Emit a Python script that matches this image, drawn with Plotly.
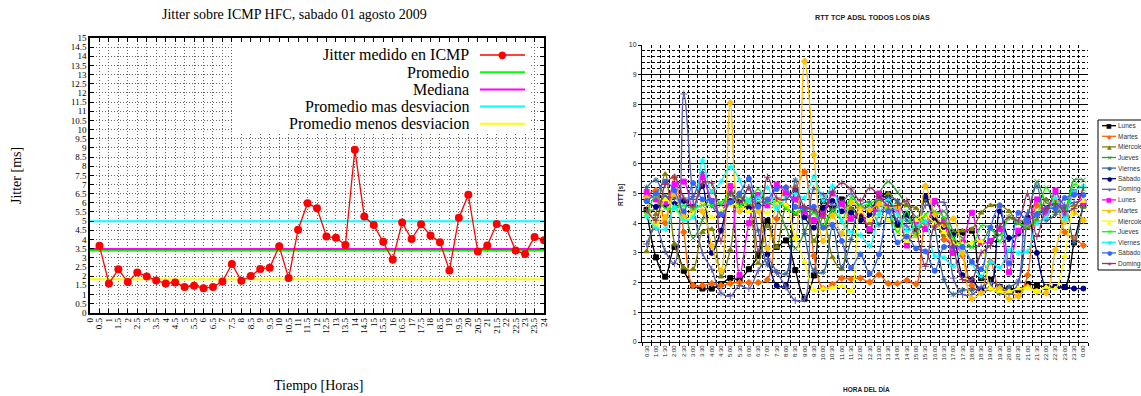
import plotly.graph_objects as go

W, H = 1141, 396


def px(x):
    return x / W


def py(y):
    return (H - y) / H


SERIF = "Liberation Serif, Times New Roman, serif"
SANS = "Liberation Sans, Arial, sans-serif"

# ---------------- Left chart data ----------------
hours = [0.5, 1, 1.5, 2, 2.5, 3, 3.5, 4, 4.5, 5, 5.5, 6, 6.5, 7, 7.5, 8, 8.5, 9, 9.5, 10,
         10.5, 11, 11.5, 12, 12.5, 13, 13.5, 14, 14.5, 15, 15.5, 16, 16.5, 17, 17.5, 18,
         18.5, 19, 19.5, 20, 20.5, 21, 21.5, 22, 22.5, 23, 23.5, 24]
jitter = [3.65, 1.6, 2.37, 1.67, 2.2, 1.98, 1.76, 1.6, 1.65, 1.41, 1.47, 1.34, 1.41, 1.7,
          2.66, 1.74, 2.0, 2.39, 2.46, 3.63, 1.89, 4.53, 5.98, 5.7, 4.16, 4.09, 3.7, 8.9,
          5.25, 4.79, 3.87, 2.9, 4.92, 4.02, 4.83, 4.22, 3.85, 2.31, 5.19, 6.44, 3.34, 3.67,
          4.84, 4.64, 3.39, 3.21, 4.14, 3.96]
hour_range = [0, 24]
stat_names = ["Promedio", "Mediana", "Promedio mas desviacion", "Promedio menos desviacion"]
stat_values = [3.40, 3.48, 4.99, 1.82]
stat_colors = ["#00FF00", "#FF00FF", "#00FFFF", "#FFFF00"]
jitter_name = "Jitter medido en ICMP"

# ---------------- Right chart data ----------------
hora = ["0:30", "1:00", "1:30", "2:00", "2:30", "3:00", "3:30", "4:00", "4:30", "5:00",
        "5:30", "6:00", "6:30", "7:00", "7:30", "8:00", "8:30", "9:00", "9:30", "10:00",
        "10:30", "11:00", "11:30", "12:00", "12:30", "13:00", "13:30", "14:00", "14:30",
        "15:00", "15:30", "16:00", "16:30", "17:00", "17:30", "18:00", "18:30", "19:00",
        "19:30", "20:00", "20:30", "21:00", "21:30", "22:00", "22:30", "23:00", "23:30", "0:00"]

lunes1 = [4.45, 2.85, 2.2, 3.2, 2.4, 1.9, 1.8, 1.8, 1.95, 2.15, 2.1, 2.45, 2.9, 4.08, 3.2, 3.42,
          2.42, 1.46, 2.24, 4.74, 4.48, 4.8, 4.45, 4.3, 3.75, 4.85, 4.98, 3.95, 4.3, 3.8, 4.8,
          4.2, 3.9, 3.7, 3.7, 3.75, 2.15, 2.1, 1.85, 1.8, 1.75, 1.95, 1.9, 1.85, 1.85, 1.85, 3.35, 4.6]
martes1 = [4.9, 5.1, 4.0, 5.55, 3.7, 1.9, 1.9, 1.97, 1.9, 1.97, 2.0, 2.0, 2.0, 2.1, 4.15, 5.2,
           5.2, 5.73, 2.9, 1.8, 1.94, 2.15, 2.12, 2.15, 2.02, 2.27, 1.97, 1.97, 2.08, 1.95, 4.0,
           4.3, 3.45, 3.35, 2.9, 1.9, 1.75, 2.7, 1.75, 1.7, 1.55, 2.25, 4.6, 4.35, 4.75, 3.7, 3.5, 3.25]
miercoles1 = [3.05, 4.3, 5.65, 3.3, 2.5, 2.45, 3.7, 3.8, 2.2, 3.1, 4.9, 4.6, 2.65, 3.9, 3.2, 4.5,
              4.3, 4.5, 3.4, 4.2, 2.85, 2.45, 4.5, 4.1, 4.0, 4.6, 5.0, 4.7, 4.6, 4.5, 4.05, 4.1,
              3.6, 3.7, 3.75, 3.8, 4.35, 4.6, 4.6, 4.4, 4.0, 3.85, 4.1, 4.8, 4.4, 4.5, 4.6, 4.55]
jueves1 = [4.4, 4.5, 4.9, 4.6, 4.4, 3.5, 4.1, 5.1, 4.6, 5.05, 4.9, 4.6, 4.7, 4.7, 4.5, 3.85,
           3.15, 3.7, 4.4, 3.85, 4.4, 4.6, 4.4, 4.6, 4.4, 5.0, 5.4, 5.05, 4.6, 4.2, 3.8, 4.25,
           4.4, 3.75, 3.5, 3.2, 3.3, 3.8, 3.6, 4.2, 4.0, 4.3, 5.4, 4.7, 4.6, 4.5, 5.45, 5.45]
viernes1 = [5.2, 5.45, 4.9, 4.85, 4.75, 4.9, 5.7, 4.6, 4.3, 5.05, 4.6, 5.2, 3.75, 2.6, 2.35, 2.3,
            5.45, 3.65, 2.4, 2.35, 3.9, 2.5, 3.45, 4.6, 4.7, 3.95, 4.85, 4.75, 4.1, 4.0, 4.8,
            3.85, 2.1, 1.6, 1.75, 1.75, 1.8, 1.8, 1.65, 1.85, 2.05, 4.2, 5.25, 4.1, 4.3, 4.55, 3.35, 4.7]
sabado1 = [4.75, 4.55, 4.6, 4.65, 4.75, 4.55, 5.25, 3.0, 3.75, 4.75, 4.7, 4.5, 4.6, 2.95, 1.9, 1.9,
           5.1, 4.2, 3.85, 4.5, 4.75, 4.4, 4.35, 4.1, 4.3, 4.9, 4.8, 4.0, 4.3, 4.0, 4.9, 4.1,
           3.9, 3.6, 2.25, 2.1, 1.75, 1.8, 4.4, 3.5, 3.65, 4.2, 3.0, 1.85, 1.85, 1.85, 1.8, 1.8]
domingo1 = [3.3, 3.85, 3.05, 2.65, 8.35, 4.8, 3.0, 2.45, 1.65, 1.55, 1.9, 1.8, 2.4, 2.8, 2.35, 1.85,
            1.4, 1.45, 5.15, 4.95, 4.6, 4.7, 5.0, 4.5, 4.55, 4.4, 4.55, 4.1, 3.9, 3.65, 4.6, 4.65,
            4.7, 2.15, 1.6, 1.6, 1.85, 2.0, 1.9, 1.6, 2.0, 4.35, 4.3, 4.35, 5.0, 4.6, 4.7, 4.75]
lunes2 = [5.05, 4.8, 4.7, 5.3, 5.4, 4.45, 5.55, 4.75, 4.3, 5.25, 2.25, 4.0, 4.95, 4.6, 5.3, 5.0,
          4.8, 4.4, 4.1, 4.3, 5.0, 4.65, 4.15, 4.4, 3.8, 5.0, 4.45, 4.45, 3.25, 4.0, 3.8, 4.75,
          4.1, 3.0, 3.35, 4.35, 3.35, 3.4, 3.8, 2.35, 3.75, 3.95, 4.8, 4.35, 5.1, 4.3, 5.05, 4.7]
martes2 = [4.85, 4.0, 4.2, 5.0, 4.2, 4.45, 4.4, 3.25, 2.4, 8.05, 4.4, 4.75, 4.4, 3.15, 4.55, 4.6,
           3.5, 9.45, 6.3, 3.4, 4.25, 3.65, 4.7, 4.5, 4.45, 4.65, 4.5, 4.55, 3.5, 3.6, 5.25, 4.3,
           3.95, 4.15, 3.0, 1.45, 1.65, 1.8, 1.8, 1.45, 1.55, 1.85, 1.7, 1.65, 3.1, 4.05, 4.35, 4.1]
miercoles2 = [4.3, 3.9, 4.8, 4.5, 4.1, 4.3, 4.7, 4.2, 4.4, 4.6, 4.6, 4.4, 4.5, 4.35, 4.75, 4.6,
              3.5, 2.7, 1.75, 1.8, 1.83, 1.88, 1.72, 4.4, 4.1, 4.3, 4.1, 3.75, 3.4, 4.1, 4.25, 4.0,
              3.7, 3.3, 3.3, 3.35, 3.4, 1.8, 1.7, 1.7, 1.8, 1.8, 1.7, 1.85, 1.8, 2.9, 4.5, 4.75]
jueves2 = [4.3, 4.9, 4.5, 4.5, 4.6, 4.5, 4.6, 4.6, 4.7, 4.95, 4.6, 4.8, 5.15, 4.7, 4.75, 4.5,
           4.35, 4.5, 4.35, 3.95, 4.45, 4.1, 4.85, 4.6, 4.65, 4.8, 4.55, 3.7, 4.4, 3.6, 4.3, 4.4,
           4.2, 3.5, 3.25, 3.2, 3.9, 3.85, 3.4, 4.2, 4.0, 3.9, 4.25, 5.2, 4.65, 4.4, 5.3, 5.15]
viernes2 = [4.25, 3.85, 3.8, 4.55, 4.1, 4.2, 6.1, 5.05, 5.4, 5.9, 5.45, 4.75, 4.85, 5.2, 4.5, 4.85,
            5.0, 4.85, 5.56, 4.75, 5.25, 4.05, 3.7, 3.6, 3.24, 4.3, 4.8, 4.3, 3.75, 3.9, 4.05, 2.9,
            2.85, 2.55, 3.2, 2.65, 2.2, 2.7, 2.5, 3.1, 3.0, 3.05, 4.0, 4.2, 4.85, 4.15, 5.05, 5.25]
sabado2 = [4.75, 5.0, 5.4, 5.1, 4.4, 5.35, 4.8, 4.75, 4.3, 4.7, 5.0, 5.5, 4.55, 4.8, 5.15, 5.2,
           4.55, 4.5, 4.55, 3.85, 3.95, 3.4, 2.5, 2.95, 2.3, 2.95, 4.4, 3.35, 3.55, 3.15, 3.05, 2.4,
           3.2, 3.2, 3.2, 2.7, 2.45, 3.85, 4.6, 2.65, 4.35, 4.1, 4.3, 4.5, 4.5, 4.85, 4.95, 4.95]
domingo2 = [4.45, 4.1, 5.3, 5.55, 4.85, 4.55, 5.35, 5.35, 3.4, 5.0, 4.7, 5.2, 3.05, 5.55, 4.85, 4.8,
            5.15, 4.55, 4.45, 4.3, 5.05, 5.35, 5.15, 4.75, 5.2, 4.9, 4.6, 4.6, 4.75, 3.8, 2.55, 3.9,
            4.0, 3.2, 2.1, 2.1, 3.0, 3.25, 3.9, 4.2, 4.1, 5.0, 3.55, 4.5, 4.65, 4.4, 4.5, 5.2]

rtt_names = ["Lunes", "Martes", "Miércoles", "Jueves", "Viernes", "Sábado", "Domingo",
             "Lunes", "Martes", "Miércoles", "Jueves", "Viernes", "Sábado", "Domingo"]
rtt_series = [lunes1, martes1, miercoles1, jueves1, viernes1, sabado1, domingo1,
              lunes2, martes2, miercoles2, jueves2, viernes2, sabado2, domingo2]
rtt_colors = ["#000000", "#FF6600", "#808000", "#339933", "#336699", "#000080", "#5C5CB8",
              "#FF00FF", "#FFC000", "#FFFF00", "#00FF00", "#00FFFF", "#3366FF", "#993366"]
rtt_symbols = ["square", "diamond", "triangle-up", "x-thin-open", "asterisk-open", "circle",
               "cross-thin-open",
               "square", "diamond", "triangle-up", "x-thin-open", "asterisk-open", "circle",
               "cross-thin-open"]
glyph_for = {"square": "■", "diamond": "◆", "triangle-up": "▲", "x-thin-open": "✕",
             "asterisk-open": "✱", "circle": "●", "cross-thin-open": "+"}

fig = go.Figure()

# ---- left traces ----
for name, val, col in zip(stat_names, stat_values, stat_colors):
    fig.add_trace(go.Scatter(x=hour_range, y=[val, val], mode="lines", name=name,
                             line=dict(color=col, width=2), showlegend=False,
                             xaxis="x", yaxis="y", hoverinfo="skip"))
fig.add_trace(go.Scatter(x=hours, y=jitter, mode="lines+markers", name=jitter_name,
                         line=dict(color="#FF0000", width=1.3),
                         marker=dict(color="#FF0000", size=8, symbol="circle"),
                         showlegend=False, xaxis="x", yaxis="y"))

# ---- right traces ----
for name, ys, col, sym in zip(rtt_names, rtt_series, rtt_colors, rtt_symbols):
    fig.add_trace(go.Scatter(x=hora, y=ys, mode="lines+markers", name=name,
                             line=dict(color=col, width=1.3, shape="spline", smoothing=1.0),
                             marker=dict(symbol=sym, size=5, color=col,
                                         line=dict(color=col, width=1)),
                             showlegend=False, xaxis="x2", yaxis="y2"))

shapes = []
annotations = []

# ---- left legend (gnuplot style key) ----
shapes.append(dict(type="rect", xref="paper", yref="paper", x0=px(234), x1=px(530),
                   y0=py(133), y1=py(43), fillcolor="white", line=dict(width=0), layer="above"))
left_leg_names = [jitter_name] + stat_names
left_leg_colors = ["#FF0000"] + stat_colors
for k, (nm, col) in enumerate(zip(left_leg_names, left_leg_colors)):
    yy = 55 + 17.2 * k
    annotations.append(dict(text=nm, xref="paper", yref="paper", x=px(471), y=py(yy),
                            xanchor="right", yanchor="middle", showarrow=False,
                            font=dict(family=SERIF, size=16, color="black")))
    shapes.append(dict(type="line", xref="paper", yref="paper", x0=px(480), x1=px(525),
                       y0=py(yy), y1=py(yy), line=dict(color=col, width=1.6 if k == 0 else 2),
                       layer="above"))
    if k == 0:
        annotations.append(dict(text="●", xref="paper", yref="paper", x=px(502.5), y=py(yy),
                                xanchor="center", yanchor="middle", showarrow=False,
                                font=dict(family="DejaVu Sans", size=10, color="#FF0000")))

# ---- right legend (Excel style) ----
shapes.append(dict(type="rect", xref="paper", yref="paper", x0=px(1098), x1=px(1150),
                   y0=py(270), y1=py(120), fillcolor="white",
                   line=dict(color="black", width=1), layer="above"))
for k, (nm, col, sym) in enumerate(zip(rtt_names, rtt_colors, rtt_symbols)):
    yy = 125.7 + 10.6 * k
    shapes.append(dict(type="line", xref="paper", yref="paper", x0=px(1102), x1=px(1116),
                       y0=py(yy), y1=py(yy), line=dict(color=col, width=1.3), layer="above"))
    annotations.append(dict(text=glyph_for[sym], xref="paper", yref="paper", x=px(1109),
                            y=py(yy), xanchor="center", yanchor="middle", showarrow=False,
                            font=dict(family="DejaVu Sans", size=6, color=col)))
    annotations.append(dict(text=nm, xref="paper", yref="paper", x=px(1116), y=py(yy),
                            xanchor="left", yanchor="middle", showarrow=False,
                            font=dict(family=SANS, size=6.5, color="#333333")))

# ---- titles ----
annotations += [
    dict(text="Jitter sobre ICMP HFC, sabado 01 agosto 2009", x=px(294), y=py(15),
         font=dict(family=SERIF, size=14, color="black")),
    dict(text="Tiempo [Horas]", x=px(318), y=py(385),
         font=dict(family=SERIF, size=14, color="black")),
    dict(text="Jitter [ms]", x=px(16), y=py(176), textangle=-90,
         font=dict(family=SERIF, size=14, color="black")),
    dict(text="<b>RTT TCP ADSL TODOS LOS DÍAS</b>", x=px(872), y=py(18),
         font=dict(family=SANS, size=7.2, color="#222222")),
    dict(text="<b>RTT [s]</b>", x=px(621), y=py(195), textangle=-90,
         font=dict(family=SANS, size=6.5, color="#222222")),
    dict(text="<b>HORA DEL DÍA</b>", x=px(866), y=py(389),
         font=dict(family=SANS, size=6.5, color="#222222")),
]
for a in annotations[-6:]:
    a.update(xref="paper", yref="paper", xanchor="center", yanchor="middle", showarrow=False)

fig.update_layout(
    template="none",
    width=W, height=H, autosize=False,
    margin=dict(l=0, r=0, t=0, b=0, pad=0),
    paper_bgcolor="white", plot_bgcolor="white",
    font=dict(family=SANS, color="black"),
    showlegend=False,
    shapes=shapes, annotations=annotations,
    xaxis=dict(domain=[px(90), px(544)], range=[0, 24], dtick=0.5, tick0=0, automargin=False,
               tickangle=-90, showgrid=True, gridcolor="#666666", griddash="1px,2px",
               gridwidth=1, zeroline=False, showline=True, linecolor="black", linewidth=1.5,
               mirror="allticks", ticks="inside", ticklen=4, tickcolor="black",
               tickfont=dict(family=SERIF, size=9, color="black"), anchor="y"),
    yaxis=dict(domain=[py(312.7), py(38)], range=[0, 15], dtick=0.5, tick0=0, automargin=False,
               showgrid=True, gridcolor="#666666", griddash="1px,2px", gridwidth=1,
               zeroline=False, showline=True, linecolor="black", linewidth=1.5,
               mirror="allticks", ticks="inside", ticklen=4, tickcolor="black",
               tickfont=dict(family=SERIF, size=9, color="black"), anchor="x"),
    xaxis2=dict(domain=[px(642), px(1088)], type="category", range=[-0.5, 47.5],
                automargin=False,
                tickson="boundaries", showgrid=True, gridcolor="black", griddash="3px,2px",
                gridwidth=1, showline=True, linecolor="black", linewidth=1,
                ticks="outside", ticklen=3, tickcolor="black", tickangle=-90,
                tickfont=dict(family=SANS, size=6, color="#222222"), anchor="y2"),
    yaxis2=dict(domain=[py(342), py(45)], range=[0, 10], dtick=1, tick0=0, automargin=False,
                showgrid=True, gridcolor="black", gridwidth=1, zeroline=False,
                showline=True, linecolor="black", linewidth=1,
                ticks="outside", ticklen=3, tickcolor="black",
                minor=dict(dtick=0.2, showgrid=True, gridcolor="black", griddash="3px,2px",
                           gridwidth=1),
                tickfont=dict(family=SANS, size=7, color="#222222"), anchor="x2"),
)

fig.write_html(
    "out.html",
    config={"displayModeBar": False},
    post_script="document.body.style.margin='0px';document.body.style.padding='0px';"
                "document.body.style.overflow='hidden';",
)
